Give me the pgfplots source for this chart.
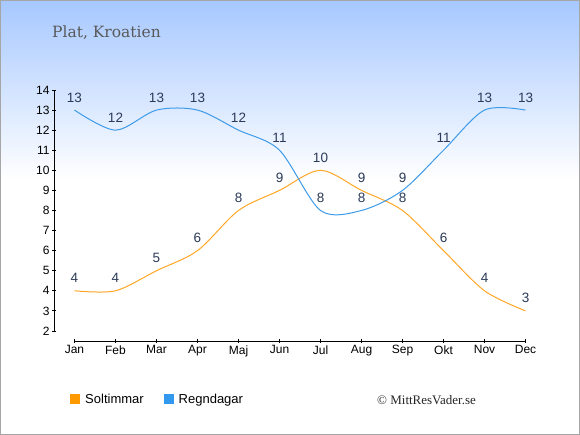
\documentclass[border=0pt]{standalone}
\usepackage{fontspec}
\setmainfont{Liberation Sans}
\newfontfamily\titlefont{DejaVu Serif}
\newfontfamily\crfont{Liberation Serif}
\usepackage{pgfplots}
\pgfplotsset{compat=1.18}
\definecolor{sun}{HTML}{FFA726}
\definecolor{rain}{HTML}{3D9BE9}
\definecolor{sunleg}{HTML}{FF9900}
\definecolor{rainleg}{HTML}{3399EE}
\definecolor{lab}{HTML}{2B3A58}
\definecolor{topblue}{HTML}{A6C8FF}
\begin{document}
\begin{tikzpicture}[x=1pt,y=1pt]
\useasboundingbox (0,0) rectangle (580,435);
\fill[white] (0,0) rectangle (580,435);
\shade[top color=topblue, bottom color=white] (0,255) rectangle (580,435);
\draw[gray!70, line width=1pt] (0.5,0.5) rectangle (579.5,434.5);
\node[anchor=base west, text=black!65, inner sep=0pt, font=\titlefont\fontsize{15.5}{18}\selectfont] at (52,397) {Plat, Kroatien};
\node[anchor=base west, text=black!85, inner sep=0pt, font=\crfont\fontsize{13}{15}\selectfont] at (377,30.5) {© MittResVader.se};
\begin{axis}[
  at={(54pt,94pt)}, anchor=south west,
  scale only axis, width=471.5pt, height=251pt,
  xmin=-0.5, xmax=11, ymin=1.5, ymax=14,
  clip=false,
  axis lines=left,
  axis line style={draw=none},
  xtick={0,...,11},
  xticklabels={Jan,Feb,Mar,Apr,Maj,Jun,Jul,Aug,Sep,Okt,Nov,Dec},
  ytick={2,...,14},
  tick style={black, line width=0.8pt},
  major tick length=4pt,
  tick align=center,
  every tick label/.append style={font=\fontsize{12}{14}\selectfont, text=black},
  /pgf/number format/assume math mode=true,
  y tick label style={xshift=1pt},
  x tick label style={yshift=1pt},
  nodes near coords,
  every node near coord/.append style={font=\fontsize{13.5}{15}\selectfont, text=lab, anchor=base, yshift=8pt, inner sep=0pt},
  legend style={at={(0.0276,-0.233)}, anchor=west, draw=none, fill=none, legend columns=2,
    font=\fontsize{13}{15}\selectfont, /tikz/every even column/.append style={column sep=18pt}},
  legend cell align=left,
]
\draw[black, line width=0.8pt] (axis cs:-0.5,2) -- (axis cs:-0.5,14);
\draw[black, line width=0.8pt] (axis cs:0,1.5) -- (axis cs:11,1.5);
\addplot[sun, line width=1pt, smooth, tension=0.5, legend image code/.code={\fill[sunleg] (0pt,-4.5pt) rectangle (9pt,4.5pt); \path (12pt,0pt);}]
  coordinates {(0,4) (1,4) (2,5) (3,6) (4,8) (5,9) (6,10) (7,9) (8,8) (9,6) (10,4) (11,3)};
\addlegendentry{Soltimmar}
\addplot[rain, line width=1pt, smooth, tension=0.5, legend image code/.code={\fill[rainleg] (0pt,-4.5pt) rectangle (9pt,4.5pt); \path (12pt,0pt);}]
  coordinates {(0,13) (1,12) (2,13) (3,13) (4,12) (5,11) (6,8) (7,8) (8,9) (9,11) (10,13) (11,13)};
\addlegendentry{Regndagar}
\end{axis}
\end{tikzpicture}
\end{document}
